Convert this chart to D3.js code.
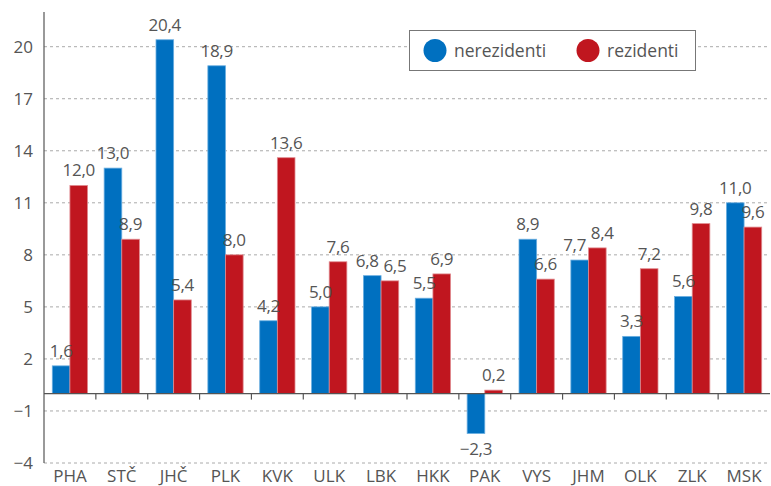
<!DOCTYPE html>
<html>
<head>
<meta charset="utf-8">
<script src="https://cdn.jsdelivr.net/npm/d3@7"></script>
<style>
  body { margin: 0; background: #fff; }
  text { font-family: "Open Sans", "Noto Sans", sans-serif; fill: #555; }
</style>
</head>
<body>
<div id="chart"></div>
<script>
let regions = ['PHA', 'STČ', 'JHČ', 'PLK', 'KVK', 'ULK', 'LBK', 'HKK', 'PAK', 'VYS', 'JHM', 'OLK', 'ZLK', 'MSK']
let nerezidenti = [1.6, 13.0, 20.4, 18.9, 4.2, 5.0, 6.8, 5.5, -2.3, 8.9, 7.7, 3.3, 5.6, 11.0]
let rezidenti = [12.0, 8.9, 5.4, 8.0, 13.6, 7.6, 6.5, 6.9, 0.2, 6.6, 8.4, 7.2, 9.8, 9.6]
let yTicks = [-4, -1, 2, 5, 8, 11, 14, 17, 20]
let seriesNames = ['nerezidenti', 'rezidenti']

let width = 771
let height = 486
let margin = { top: 12, right: 1, bottom: 23, left: 44 }

let colors = { nerezidenti: '#0070c0', rezidenti: '#c0161f' }
let strokes = { nerezidenti: '#6aaee0', rezidenti: '#e08a8f' }

let data = regions.map((r, i) => ({ region: r, nerezidenti: nerezidenti[i], rezidenti: rezidenti[i] }))

let svg = d3.select('#chart')
  .append('svg')
  .attr('width', width)
  .attr('height', height)

let x = d3.scaleBand()
  .domain(regions)
  .range([margin.left, width - margin.right])

let xInner = d3.scaleBand()
  .domain(seriesNames)
  .range([0, x.bandwidth()])
  .paddingInner(0)
  .paddingOuter(0.47)

let y = d3.scaleLinear()
  .domain([-4, 22])
  .range([height - margin.bottom, margin.top])

let fmt = v => d3.format('.1f')(v).replace('.', ',').replace('-', '−')

// gridlines
svg.append('g')
  .selectAll('line')
  .data(yTicks)
  .join('line')
  .attr('x1', margin.left)
  .attr('x2', width - margin.right)
  .attr('y1', d => y(d))
  .attr('y2', d => y(d))
  .attr('stroke', '#aaa')
  .attr('stroke-dasharray', '3,3')
  .attr('stroke-width', 1)

// y tick labels
svg.append('g')
  .selectAll('text')
  .data(yTicks)
  .join('text')
  .attr('x', 33)
  .attr('y', d => y(d))
  .attr('dy', '0.36em')
  .attr('text-anchor', 'end')
  .style('font-size', '17px')
  .text(d => String(d).replace('-', '−'))

// bars
let groups = svg.append('g')
  .selectAll('g')
  .data(data)
  .join('g')
  .attr('transform', d => 'translate(' + x(d.region) + ',0)')

groups.selectAll('rect')
  .data(d => seriesNames.map(k => ({ key: k, value: d[k] })))
  .join('rect')
  .attr('x', d => xInner(d.key))
  .attr('width', xInner.bandwidth())
  .attr('y', d => y(Math.max(0, d.value)))
  .attr('height', d => Math.abs(y(d.value) - y(0)))
  .attr('fill', d => colors[d.key])
  .attr('stroke', d => strokes[d.key])
  .attr('stroke-width', 0.8)

// labels: spread apart when the two labels of a group sit at similar heights
let labelY = v => v >= 0 ? y(v) - 9 : y(v) + 21
groups.selectAll('text')
  .data(d => {
    let close = Math.abs(labelY(d.nerezidenti) - labelY(d.rezidenti)) < 15
    return seriesNames.map((k, i) => ({ key: k, value: d[k], shift: close ? (i === 0 ? -5 : 5) : 0 }))
  })
  .join('text')
  .attr('x', d => xInner(d.key) + xInner.bandwidth() / 2 + d.shift)
  .attr('y', d => labelY(d.value))
  .attr('text-anchor', 'middle')
  .style('font-size', '17px')
  .style('letter-spacing', '-0.3px')
  .text(d => fmt(d.value))

// zero axis
svg.append('line')
  .attr('x1', margin.left)
  .attr('x2', width - margin.right)
  .attr('y1', y(0))
  .attr('y2', y(0))
  .attr('stroke', '#555')
  .attr('stroke-width', 1.2)

svg.append('g')
  .selectAll('line')
  .data(regions.slice(1))
  .join('line')
  .attr('x1', d => x(d))
  .attr('x2', d => x(d))
  .attr('y1', y(0))
  .attr('y2', y(0) + 6)
  .attr('stroke', '#555')
  .attr('stroke-width', 1.2)

// y axis line
svg.append('line')
  .attr('x1', margin.left)
  .attr('x2', margin.left)
  .attr('y1', margin.top)
  .attr('y2', height - margin.bottom)
  .attr('stroke', '#555')
  .attr('stroke-width', 1.2)

// x labels
svg.append('g')
  .selectAll('text')
  .data(regions)
  .join('text')
  .attr('x', d => x(d) + x.bandwidth() / 2)
  .attr('y', height - 4)
  .attr('text-anchor', 'middle')
  .style('font-size', '17px')
  .text(d => d)

// legend
let legend = svg.append('g')
legend.append('rect')
  .attr('x', 409.5)
  .attr('y', 30.5)
  .attr('width', 286)
  .attr('height', 40)
  .attr('fill', '#fff')
  .attr('stroke', '#777')
  .attr('stroke-width', 1)

let legendX = [435, 588]
seriesNames.forEach((k, i) => {
  legend.append('circle')
    .attr('cx', legendX[i])
    .attr('cy', 50.5)
    .attr('r', 11.5)
    .attr('fill', colors[k])
  legend.append('text')
    .attr('x', legendX[i] + 19)
    .attr('y', 50.5)
    .attr('dy', '0.36em')
    .style('font-size', '17.5px')
    .text(k)
})
</script>
</body>
</html>
